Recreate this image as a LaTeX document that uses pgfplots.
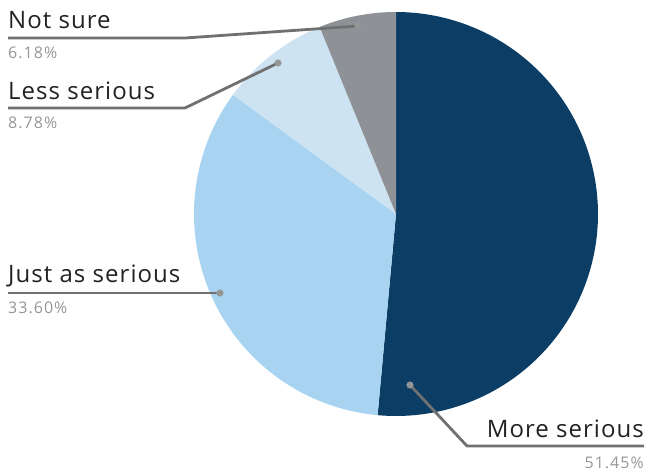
\documentclass[border=0pt]{standalone}
\usepackage{pgfplots}
\pgfplotsset{compat=1.18}
\usepackage{fontspec}
\setmainfont[LetterSpace=4.3]{Open Sans}
\newfontfamily\pctfont[LetterSpace=6.5]{Open Sans}
\definecolor{cMore}{RGB}{11,61,101}
\definecolor{cJust}{RGB}{168,212,242}
\definecolor{cLess}{RGB}{205,227,242}
\definecolor{cNot}{RGB}{142,146,150}
\definecolor{cLine}{RGB}{112,112,112}
\definecolor{cDot}{RGB}{150,150,150}
\definecolor{cTxt}{RGB}{34,34,34}
\definecolor{cPct}{RGB}{150,150,150}
% data (percent)
\def\vMore{51.45}
\def\vJust{33.60}
\def\vLess{8.78}
\def\vNot{6.18}
\begin{document}
\begin{tikzpicture}
\pgfmathsetmacro\aA{90}
\pgfmathsetmacro\aB{\aA-3.6*\vMore}
\pgfmathsetmacro\aC{\aB-3.6*\vJust}
\pgfmathsetmacro\aD{\aC-3.6*\vLess}
\pgfmathsetmacro\aE{\aD-3.6*\vNot}
\begin{axis}[x=1pt,y=1pt,xmin=0,xmax=646,ymin=0,ymax=472,hide axis,clip=false]
\addplot[fill=cMore,draw=none,domain=\aB:\aA,samples=120,variable=\t] ({396+202*cos(\t)},{258+202*sin(\t)}) -- (axis cs:396,258) -- cycle;
\addplot[fill=cJust,draw=none,domain=\aC:\aB,samples=90,variable=\t] ({396+202*cos(\t)},{258+202*sin(\t)}) -- (axis cs:396,258) -- cycle;
\addplot[fill=cLess,draw=none,domain=\aD:\aC,samples=40,variable=\t] ({396+202*cos(\t)},{258+202*sin(\t)}) -- (axis cs:396,258) -- cycle;
\addplot[fill=cNot,draw=none,domain=\aE:\aD,samples=40,variable=\t] ({396+202*cos(\t)},{258+202*sin(\t)}) -- (axis cs:396,258) -- cycle;
% leader lines
\addplot[cLine,line width=2.8pt,no marks] coordinates {(8,434) (185,434) (358,446)};
\addplot[cLine,line width=2.8pt,no marks] coordinates {(8,364) (185,364) (278,409)};
\addplot[cLine,line width=2.8pt,no marks] coordinates {(8,179) (220,179)};
\addplot[cLine,line width=2.8pt,no marks] coordinates {(410,87) (467,26) (644,26)};
\addplot[only marks,mark=*,mark size=3.3pt,cDot,mark options={draw=cDot,fill=cDot}] coordinates {(358,446) (278,409) (220,179) (410,87)};
% labels
\node[anchor=base west,inner sep=0pt,font=\fontsize{24}{26}\selectfont,text=cTxt] at (axis cs:8,443) {Not sure};
\node[anchor=base west,inner sep=0pt,font=\pctfont\fontsize{16}{18}\selectfont,text=cPct] at (axis cs:8,413) {6.18\%};
\node[anchor=base west,inner sep=0pt,font=\fontsize{24}{26}\selectfont,text=cTxt] at (axis cs:8,372) {Less serious};
\node[anchor=base west,inner sep=0pt,font=\pctfont\fontsize{16}{18}\selectfont,text=cPct] at (axis cs:8,343) {8.78\%};
\node[anchor=base west,inner sep=0pt,font=\fontsize{24}{26}\selectfont,text=cTxt] at (axis cs:8,189) {Just as serious};
\node[anchor=base west,inner sep=0pt,font=\pctfont\fontsize{16}{18}\selectfont,text=cPct] at (axis cs:8,158) {33.60\%};
\node[anchor=base east,inner sep=0pt,font=\fontsize{24}{26}\selectfont,text=cTxt] at (axis cs:644,35) {More serious};
\node[anchor=base east,inner sep=0pt,font=\pctfont\fontsize{16}{18}\selectfont,text=cPct] at (axis cs:644,4) {51.45\%};
\end{axis}
\pgfresetboundingbox
\path (current axis.south west) rectangle (current axis.north east);
\end{tikzpicture}
\end{document}
